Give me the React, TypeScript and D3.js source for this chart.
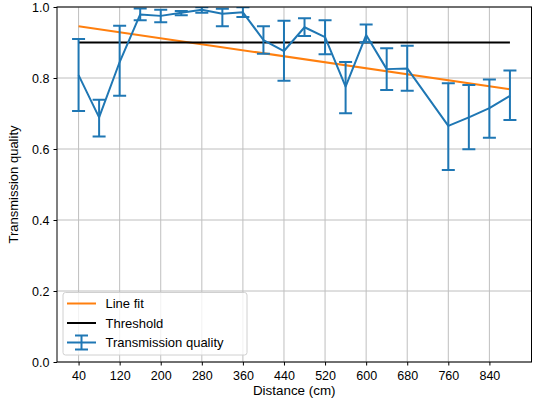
import React, { useEffect, useRef } from "react";
import * as d3 from "d3";

const distances = [40, 80, 120, 160, 200, 240, 280, 320, 360, 400, 440, 480, 520, 560, 600, 640, 680, 760, 800, 840, 880];
const quality = [0.808, 0.689, 0.845, 0.979, 0.975, 0.984, 0.992, 0.981, 0.985, 0.907, 0.876, 0.943, 0.915, 0.776, 0.921, 0.825, 0.827, 0.665, 0.689, 0.715, 0.75];
const lower = [0.707, 0.635, 0.75, 0.963, 0.957, 0.977, 0.984, 0.946, 0.972, 0.868, 0.792, 0.918, 0.867, 0.701, 0.901, 0.766, 0.764, 0.541, 0.599, 0.632, 0.682];
const upper = [0.91, 0.739, 0.947, 0.996, 0.992, 0.989, 0.999, 0.995, 0.999, 0.946, 0.961, 0.968, 0.963, 0.845, 0.951, 0.884, 0.891, 0.785, 0.78, 0.796, 0.821];
const fitX = [40, 880];
const fitY = [0.946, 0.768];
const thresholdX = [40, 880];
const thresholdValue = 0.9;
const xTicks = [40, 120, 200, 280, 360, 440, 520, 600, 680, 760, 840];
const yTicks = [0, 0.2, 0.4, 0.6, 0.8, 1.0];
const legendLabels = ["Line fit", "Threshold", "Transmission quality"];

const W = 534;
const H = 402;
const FONT = "'Liberation Sans', Arial, Helvetica, sans-serif";

export default function App() {
  const ref = useRef<SVGSVGElement>(null);
  useEffect(() => {
    document.body.style.margin = "0";
    const svg = d3.select(ref.current);
    svg.selectAll("*").remove();
    const L = 57, R = 531.5, T = 7, B = 362;
    const x = d3.scaleLinear().domain([-2, 922]).range([L, R]);
    const y = d3.scaleLinear().domain([0, 1]).range([B, T]);
    const blue = "#1f77b4", orange = "#ff7f0e";

    svg.append("rect").attr("width", W).attr("height", H).attr("fill", "#fff");
    svg.append("defs").append("clipPath").attr("id", "clip")
      .append("rect").attr("x", L).attr("y", T).attr("width", R - L).attr("height", B - T);

    const grid = svg.append("g").attr("stroke", "#b0b0b0").attr("stroke-width", 1).attr("opacity", 0.8);
    xTicks.forEach((t) => grid.append("line").attr("x1", x(t)).attr("x2", x(t)).attr("y1", T).attr("y2", B));
    yTicks.forEach((t) => grid.append("line").attr("x1", L).attr("x2", R).attr("y1", y(t)).attr("y2", y(t)));

    const plot = svg.append("g").attr("clip-path", "url(#clip)");
    const line = d3.line<[number, number]>().x((d) => x(d[0])).y((d) => y(d[1]));
    plot.append("path").attr("d", line(fitX.map((v, i) => [v, fitY[i]]) as [number, number][]))
      .attr("fill", "none").attr("stroke", orange).attr("stroke-width", 2);
    plot.append("path").attr("d", line(thresholdX.map((v) => [v, thresholdValue]) as [number, number][]))
      .attr("fill", "none").attr("stroke", "#000").attr("stroke-width", 2);

    const eb = plot.append("g").attr("stroke", blue).attr("stroke-width", 2);
    distances.forEach((d, i) => {
      eb.append("line").attr("x1", x(d)).attr("x2", x(d)).attr("y1", y(lower[i])).attr("y2", y(upper[i]));
      [lower[i], upper[i]].forEach((v) =>
        eb.append("line").attr("x1", x(d) - 6.5).attr("x2", x(d) + 6.5).attr("y1", y(v)).attr("y2", y(v)));
    });
    plot.append("path").attr("d", line(distances.map((d, i) => [d, quality[i]]) as [number, number][]))
      .attr("fill", "none").attr("stroke", blue).attr("stroke-width", 2).attr("stroke-linejoin", "round");

    svg.append("rect").attr("x", L).attr("y", T).attr("width", R - L).attr("height", B - T)
      .attr("fill", "none").attr("stroke", "#000").attr("stroke-width", 1);

    const xa = svg.append("g").attr("transform", `translate(0,${B})`)
      .call(d3.axisBottom(x).tickValues(xTicks).tickSize(3.5).tickPadding(6).tickFormat(d3.format("d")));
    xa.select(".domain").remove();
    const ya = svg.append("g").attr("transform", `translate(${L},0)`)
      .call(d3.axisLeft(y).tickValues(yTicks).tickSize(3.5).tickPadding(4).tickFormat(d3.format(".1f")));
    ya.select(".domain").remove();
    svg.selectAll(".tick text").attr("font-family", FONT).attr("font-size", 12.5).attr("fill", "#000");
    svg.selectAll(".tick line").attr("stroke", "#000");

    svg.append("text").attr("x", (L + R) / 2).attr("y", 394.5).attr("text-anchor", "middle")
      .attr("font-family", FONT).attr("font-size", 13.4).text("Distance (cm)");
    svg.append("text").attr("transform", `translate(18,${(T + B) / 2}) rotate(-90)`).attr("text-anchor", "middle")
      .attr("font-family", FONT).attr("font-size", 13).text("Transmission quality");

    const lg = svg.append("g");
    lg.append("rect").attr("x", 63).attr("y", 292.5).attr("width", 184).attr("height", 62.5).attr("rx", 2.5)
      .attr("fill", "#fff").attr("fill-opacity", 0.8).attr("stroke", "#d0d0d0").attr("stroke-width", 1);
    const rows = [303.5, 323, 342.5];
    const colors = [orange, "#000", blue];
    legendLabels.forEach((lab, i) => {
      const yy = rows[i];
      lg.append("line").attr("x1", 67).attr("x2", 96).attr("y1", yy).attr("y2", yy)
        .attr("stroke", colors[i]).attr("stroke-width", 2);
      if (i === 2) {
        lg.append("line").attr("x1", 81.5).attr("x2", 81.5).attr("y1", yy - 7).attr("y2", yy + 7).attr("stroke", blue).attr("stroke-width", 2);
        [yy - 7, yy + 7].forEach((v) => lg.append("line").attr("x1", 75).attr("x2", 88).attr("y1", v).attr("y2", v).attr("stroke", blue).attr("stroke-width", 2));
      }
      lg.append("text").attr("x", 105.5).attr("y", yy).attr("dy", "0.35em")
        .attr("font-family", FONT).attr("font-size", 13).text(lab);
    });
  }, []);
  return <svg ref={ref} width={W} height={H} style={{ display: "block" }} />;
}
